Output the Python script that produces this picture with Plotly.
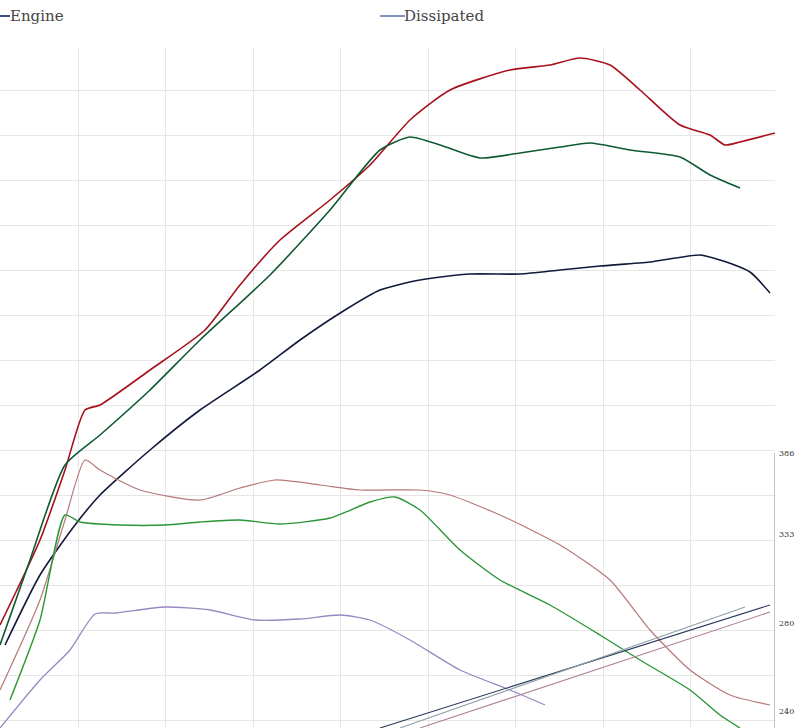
import plotly.graph_objects as go

H = 728
def yy(p): return [H - v for v in p]

red_x = [0,40,65,85,100,150,205,240,280,330,370,410,450,510,550,580,610,640,680,710,725,740,775]
red_py = [625,540,470,410,405,370,330,285,240,200,165,120,90,70,65,58,65,90,125,135,145,142,133]
green_x = [0,30,65,100,150,200,270,330,380,410,440,480,520,560,590,630,680,710,740]
green_py = [645,560,465,435,390,340,275,210,150,137,145,158,153,147,143,150,157,175,188]
navy_x = [5,40,75,100,150,200,260,300,345,380,420,470,520,560,600,650,700,720,750,770]
navy_py = [645,575,525,495,450,410,370,340,310,290,280,274,274,270,266,262,255,260,272,293]
pink_x = [0,40,65,85,100,140,200,240,275,320,360,420,450,500,560,610,650,690,730,770]
pink_py = [690,600,520,460,470,490,500,488,480,485,490,490,495,515,545,580,630,670,695,705]
lgreen_x = [10,40,65,80,120,165,200,240,280,330,370,395,420,460,500,550,600,640,690,720,740]
lgreen_py = [700,620,515,522,525,525,522,520,524,518,502,497,510,550,580,605,635,660,690,715,728]
lav_x = [0,40,70,95,115,165,210,255,300,340,370,410,460,510,545]
lav_py = [728,680,650,614,613,607,610,620,619,615,620,640,670,690,705]
line1_x = [380,770]; line1_py = [728,605]
line2_x = [400,745]; line2_py = [728,607]
line3_x = [420,770]; line3_py = [728,612]
right_labels = ["386", "333", "280", "240"]
right_label_py = [453, 541, 630, 718]

fig = go.Figure()
def add(x, p, c, w):
    fig.add_trace(go.Scatter(x=x, y=yy(p), mode="lines", line=dict(color=c, width=w, shape="spline", smoothing=0.6), hoverinfo="skip"))
add(red_x, red_py, "#a8101c", 1.6)
add(green_x, green_py, "#0f5a32", 1.6)
add(navy_x, navy_py, "#121a3c", 1.6)
add(pink_x, pink_py, "#b87878", 1.2)
add(lgreen_x, lgreen_py, "#2a9636", 1.4)
add(lav_x, lav_py, "#9a88c0", 1.3)
add(line1_x, line1_py, "#2a3a5a", 1.1)
add(line2_x, line2_py, "#90a0a8", 1.1)
add(line3_x, line3_py, "#b08098", 1.1)

fig.add_shape(type="line", x0=775, x1=775, y0=0, y1=H-453, line=dict(color="#888", width=1))
for t, p in zip(right_labels, right_label_py):
    fig.add_annotation(xref="paper", yref="paper", x=777/806, y=1-p/728, text=t, showarrow=False, xanchor="left",
                       font=dict(size=8, color="#333", family="DejaVu Serif"))

ly = 1 - 16/728
fig.add_shape(type="line", xref="paper", yref="paper", x0=0, x1=10/806, y0=ly, y1=ly, line=dict(color="#3a4a8a", width=2))
fig.add_annotation(xref="paper", yref="paper", x=8/806, y=ly, yanchor="middle", text="Engine", showarrow=False, xanchor="left",
                   font=dict(size=15, color="#444", family="DejaVu Serif"))
fig.add_shape(type="line", xref="paper", yref="paper", x0=380/806, x1=405/806, y0=ly, y1=ly, line=dict(color="#5a6aa0", width=1.5))
fig.add_annotation(xref="paper", yref="paper", x=402/806, y=ly, yanchor="middle", text="Dissipated", showarrow=False, xanchor="left",
                   font=dict(size=15, color="#444", family="DejaVu Serif"))

fig.update_layout(width=806, height=728, margin=dict(l=0, r=0, t=0, b=0), showlegend=False,
                  plot_bgcolor="white", paper_bgcolor="white")
fig.update_xaxes(domain=[0, 775/806], range=[0, 775], showgrid=True, gridcolor="#e6e6e6",
                 tick0=78, dtick=87.5, showticklabels=False, zeroline=False, ticks="")
fig.update_yaxes(domain=[0, 680/728], range=[0, 680], showgrid=True, gridcolor="#e6e6e6",
                 tick0=8, dtick=45, showticklabels=False, zeroline=False, ticks="")
fig.write_html("out.html", config={"displayModeBar": False},
               post_script="document.body.style.margin='0';document.body.style.overflow='hidden';")
